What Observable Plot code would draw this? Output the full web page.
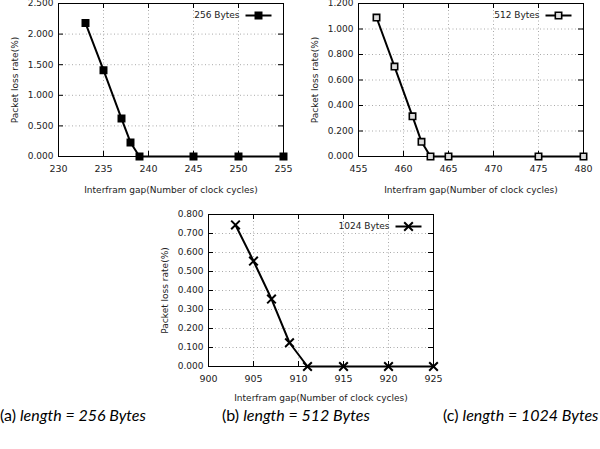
<!DOCTYPE html>
<html>
<head>
<meta charset="utf-8">
<script src="https://cdn.jsdelivr.net/npm/d3@7"></script>
<script src="https://cdn.jsdelivr.net/npm/@observablehq/plot@0.6"></script>
<style>
  html, body { margin: 0; padding: 0; background: #fff; }
  #root { position: relative; width: 600px; height: 449px; background: #fff; overflow: hidden; }
  .panel { position: absolute; }
  .panel svg { overflow: visible; }
  .cap { position: absolute; font-family: Lato, "Open Sans", sans-serif; font-size: 16px; line-height: 20px; color: #000; white-space: nowrap; }
  .cap i { font-style: italic; }
</style>
</head>
<body>
<div id="root"></div>
<script>
// ---- data ----
const gap256 = [233, 235, 237, 238, 239, 245, 250, 255];
const loss256 = [2.18, 1.41, 0.62, 0.23, 0, 0, 0, 0];
const gap512 = [457, 459, 461, 462, 463, 465, 475, 480];
const loss512 = [1.09, 0.705, 0.315, 0.115, 0, 0, 0, 0];
const gap1024 = [903, 905, 907, 909, 911, 915, 920, 925];
const loss1024 = [0.745, 0.555, 0.355, 0.125, 0, 0, 0, 0];

const xTicks256 = [230, 235, 240, 245, 250, 255];
const yTicks256 = [0, 0.5, 1.0, 1.5, 2.0, 2.5];
const xTicks512 = [455, 460, 465, 470, 475, 480];
const yTicks512 = [0, 0.2, 0.4, 0.6, 0.8, 1.0, 1.2];
const xTicks1024 = [900, 905, 910, 915, 920, 925];
const yTicks1024 = [0, 0.1, 0.2, 0.3, 0.4, 0.5, 0.6, 0.7, 0.8];

const seriesNames = ["256 Bytes", "512 Bytes", "1024 Bytes"];
const xLabel = ["Interfram gap(Number of clock cycles)"];
const yLabel = ["Packet loss rate(%)"];
const captions = [["(a) ", "length = 256 Bytes"], ["(b) ", "length = 512 Bytes"], ["(c) ", "length = 1024 Bytes"]];

const root = document.getElementById("root");
const FONT = "DejaVu Sans, Verdana, sans-serif";

const lineSymbol = { draw(ctx) { ctx.moveTo(-13, 0); ctx.lineTo(13, 0); } };

function panel({gaps, losses, xTicks, yTicks, name, left, top, mt, mb, symbol, fill, xLabelDy}) {
  const W = 300, H = 200, ml = 58, mr = 17;
  const innerW = W - ml - mr, innerH = H - mt - mb;
  const data = gaps.map((g, i) => ({gap: g, loss: losses[i]}));
  const markStyle = symbol === "times"
    ? {symbol: "times", r: 4, stroke: "black", strokeWidth: 2, fill: "none"}
    : {symbol: "square", r: 3.6, stroke: "black", strokeWidth: 1.6, fill};
  const chart = Plot.plot({
    width: W, height: H,
    marginLeft: ml, marginRight: mr, marginTop: mt, marginBottom: mb,
    style: {fontFamily: FONT, fontSize: "9px", background: "white", overflow: "visible"},
    x: {domain: [xTicks[0], xTicks[xTicks.length - 1]], axis: null},
    y: {domain: [yTicks[0], yTicks[yTicks.length - 1]], axis: null},
    marks: [
      Plot.gridX(xTicks, {stroke: "#aaa", strokeOpacity: 1, strokeDasharray: "1,2.5"}),
      Plot.gridY(yTicks, {stroke: "#aaa", strokeOpacity: 1, strokeDasharray: "1,2.5"}),
      // inward ticks on all four sides
      Plot.ruleX(xTicks, {x: d => d, insetTop: innerH - 5, stroke: "black"}),
      Plot.ruleX(xTicks, {x: d => d, insetBottom: innerH - 5, stroke: "black"}),
      Plot.ruleY(yTicks, {y: d => d, insetRight: innerW - 5, stroke: "black"}),
      Plot.ruleY(yTicks, {y: d => d, insetLeft: innerW - 5, stroke: "black"}),
      Plot.frame({stroke: "black", strokeWidth: 1}),
      Plot.axisX(xTicks, {label: null, tickSize: 0, tickPadding: 9, fontSize: 9.5, fill: "#222"}),
      Plot.axisY(yTicks, {label: null, tickSize: 0, tickPadding: 5, tickFormat: d3.format(".3f"), fontSize: 9, fill: "#222"}),
      Plot.text(xLabel, {frameAnchor: "bottom", dy: xLabelDy, lineAnchor: "middle", textAnchor: "middle", fontSize: 9, fill: "#222"}),
      Plot.text(yLabel, {frameAnchor: "left", dx: -43, rotate: -90, textAnchor: "middle", lineAnchor: "middle", fontSize: 9, fill: "#222"}),
      Plot.line(data, {x: "gap", y: "loss", stroke: "black", strokeWidth: 2}),
      Plot.dot(data, {x: "gap", y: "loss", ...markStyle}),
      // legend
      Plot.text([name], {frameAnchor: "top-right", dx: -44, dy: 12, textAnchor: "end", lineAnchor: "middle", fontSize: 9, fill: "#222"}),
      Plot.dot([name], {frameAnchor: "top-right", dx: -25, dy: 12, symbol: lineSymbol, r: 1, stroke: "black", strokeWidth: 2, fill: "none"}),
      Plot.dot([name], {frameAnchor: "top-right", dx: -25, dy: 12, ...markStyle})
    ]
  });
  const div = document.createElement("div");
  div.className = "panel";
  div.style.left = left + "px";
  div.style.top = top + "px";
  div.appendChild(chart);
  root.appendChild(div);
}

panel({gaps: gap256, losses: loss256, xTicks: xTicks256, yTicks: yTicks256, name: seriesNames[0],
  left: 0, top: 0, mt: 3, mb: 44, symbol: "square", fill: "black", xLabelDy: 34});
panel({gaps: gap512, losses: loss512, xTicks: xTicks512, yTicks: yTicks512, name: seriesNames[1],
  left: 300, top: 0, mt: 3, mb: 44, symbol: "square", fill: "#ddd", xLabelDy: 34});
panel({gaps: gap1024, losses: loss1024, xTicks: xTicks1024, yTicks: yTicks1024, name: seriesNames[2],
  left: 150, top: 200, mt: 14, mb: 34, symbol: "times", fill: "none", xLabelDy: 32});

const capLeft = [0, 222, 443];
captions.forEach((c, i) => {
  const el = document.createElement("div");
  el.className = "cap";
  el.style.left = capLeft[i] + "px";
  el.style.top = "405px";
  el.append(c[0]);
  const it = document.createElement("i");
  it.textContent = c[1];
  el.appendChild(it);
  root.appendChild(el);
});
</script>
</body>
</html>
